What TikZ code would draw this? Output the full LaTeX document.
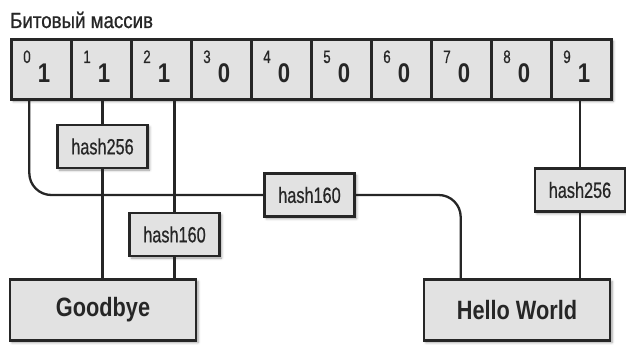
\documentclass[tikz,border=0pt]{standalone}
\usepackage{fontspec}
\setmainfont{Liberation Sans}[FakeStretch=0.82]
\newfontfamily\condfont{Liberation Sans}[FakeStretch=0.74, FakeBold=0.6]
\newfontfamily\titlefont{Liberation Sans}[FakeStretch=0.85, FakeBold=0.8]
\usetikzlibrary{shadows.blur}
\definecolor{ink}{HTML}{262626}
\definecolor{boxfill}{HTML}{E2E2E2}
\begin{document}
\begin{tikzpicture}[x=1pt,y=-1pt,
  boxstyle/.style={draw=ink, line width=2.6pt, fill=boxfill, inner sep=0pt,
    blur shadow={shadow xshift=2pt, shadow yshift=-2pt, shadow blur radius=2.5pt, shadow opacity=40}},
  hashbox/.style={boxstyle, minimum width=90pt, minimum height=43pt, font=\condfont\fontsize{22}{22}\selectfont, text=ink},
  msgbox/.style={boxstyle, minimum width=186pt, minimum height=61pt, font=\bfseries\fontsize{26.5}{28}\selectfont, text=ink},
  cellbox/.style={draw=ink, line width=2.6pt, fill=boxfill, minimum width=60pt, minimum height=60pt, inner sep=0pt},
  idx/.style={anchor=base, inner sep=0pt, font=\condfont\fontsize{18}{18}\selectfont, text=ink},
  val/.style={anchor=base, inner sep=0pt, font=\bfseries\fontsize{27}{28}\selectfont, text=ink},
  wire/.style={draw=ink, line width=2.3pt}
]
\useasboundingbox (0,0) rectangle (626,345);
\node[anchor=base west, inner sep=0pt, font=\titlefont\fontsize{22}{22}\selectfont, text=ink] (title) at (10,28) {Битовый массив};
\node[boxstyle, minimum width=600pt, minimum height=60pt, anchor=north west] (array) at (10,38) {};
\foreach \i/\v in {0/1,1/1,2/1,3/0,4/0,5/0,6/0,7/0,8/0,9/1} {
  \node[cellbox, anchor=north west] (cell\i) at ({10+60*\i},38) {};
  \node[idx] (ix\i) at ({27+60*\i},63) {\i};
  \node[val] (vl\i) at ({44+60*\i},82) {\v};
}
\node[hashbox] (h256a) at (102.5,146.5) {hash256};
\node[hashbox] (h160a) at (174.5,234.5) {hash160};
\node[hashbox] (h160b) at (309.5,195) {hash160};
\node[hashbox] (h256b) at (580,190) {hash256};
\node[msgbox] (good) at (103,310) {Goodbye};
\node[msgbox] (hello) at (517,310) {Hello World};
\coordinate (c0out) at ([xshift=-12pt]cell0.south);
\coordinate (hin) at ([xshift=38pt]hello.north west);
\draw[wire, rounded corners=22pt] (c0out) |- (h160b.west);
\draw[wire] (h256a.north |- cell1.south) -- (h256a.north);
\draw[wire] (h256a.south) -- (h256a.south |- good.north);
\draw[wire] (h160a.north |- cell2.south) -- (h160a.north);
\draw[wire] (h160a.south) -- (h160a.south |- good.north);
\draw[wire, rounded corners=22pt] (h160b.east) -| (hin);
\draw[wire] (h256b.north |- cell9.south) -- (h256b.north);
\draw[wire] (h256b.south) -- (h256b.south |- hello.north);
\end{tikzpicture}
\end{document}
